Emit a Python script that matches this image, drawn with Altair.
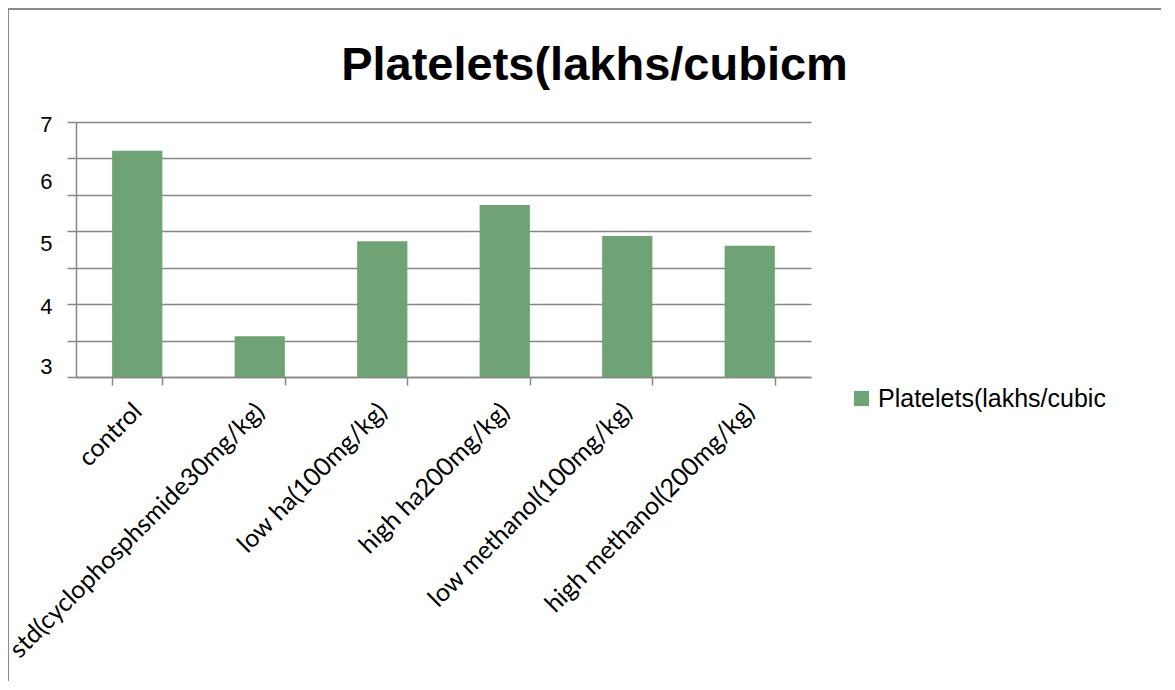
import altair as alt
import pandas as pd

categories = [
    "control",
    "std(cyclophosphsmide30mg/kg)",
    "low ha(100mg/kg)",
    "high ha200mg/kg)",
    "low methanol(100mg/kg)",
    "high methanol(200mg/kg)",
]
values = [6.55, 3.64, 5.13, 5.70, 5.21, 5.06]
series_name = "Platelets(lakhs/cubic"
title_text = "Platelets(lakhs/cubicm"
axis_floor = 3

# gridlines of the original axis (7 equal steps between 3 and 7)
grid_values = [3 + k * 4 / 7 for k in range(8)]
# where the tick labels 7,6,5,4,3 appear in the original
label_values = [6.96, 6.06, 5.10, 4.11, 3.16]

df = pd.DataFrame({"category": categories, "value": values, "series": series_name})

GRAY = "#868686"
GREEN = "#6FA275"

all_vals = grid_values + label_values
label_test = "indexof([" + ",".join(str(v) for v in label_values) + "], datum.value) >= 0"

y_axis = alt.Axis(
    values=all_vals,
    grid=True,
    gridColor=GRAY,
    gridWidth=1.5,
    gridOpacity={"condition": {"test": label_test, "value": 0}, "value": 1},
    tickOpacity={"condition": {"test": label_test, "value": 0}, "value": 1},
    labelOpacity={"condition": {"test": label_test, "value": 1}, "value": 0},
    tickColor=GRAY,
    tickSize=9,
    tickWidth=1.5,
    domainColor=GRAY,
    domainWidth=1.5,
    labelExpr="round(datum.value)",
    labelFont="Liberation Sans",
    labelFontSize=22,
    labelColor="#000000",
    labelPadding=15,
    labelOverlap=False,
    title=None,
)

x_axis = alt.Axis(
    labelAngle=-45,
    labelAlign="right",
    labelBaseline="middle",
    labelFont="Lato",
    labelFontSize=25,
    labelColor="#000000",
    labelPadding=22,
    labelLimit=0,
    tickBand="extent",
    tickColor=GRAY,
    tickSize=8,
    tickWidth=1.5,
    domainColor=GRAY,
    domainWidth=1.5,
    title=None,
)

bars = alt.Chart(df).mark_bar().encode(
    x=alt.X("category:N", sort=categories, axis=x_axis,
            scale=alt.Scale(paddingInner=0.59, paddingOuter=0.295)),
    y=alt.Y("value:Q", axis=y_axis, scale=alt.Scale(domain=[3, 7], nice=False, zero=False)),
    y2=alt.datum(axis_floor),
    color=alt.Color(
        "series:N",
        scale=alt.Scale(range=[GREEN]),
        legend=alt.Legend(
            title=None,
            orient="none",
            legendX=773,
            legendY=264,
            symbolType="square",
            symbolSize=230,
            symbolStrokeWidth=0,
            labelFont="Liberation Sans",
            labelFontSize=25,
            labelColor="#000000",
            labelLimit=0,
        ),
    ),
)

frame = alt.Chart(alt.Data(values=[{"a": 1}])).mark_rect(
    fillOpacity=0, stroke="#8a8a8a", strokeWidth=2
).encode(
    x=alt.value(-68), x2=alt.value(1200), y=alt.value(-113), y2=alt.value(700)
)

chart = alt.layer(frame, bars).properties(
    width=735,
    height=255,
    title=alt.TitleParams(
        title_text,
        font="Liberation Sans",
        fontSize=47,
        fontWeight="bold",
        color="#000000",
        anchor="middle",
        frame="group",
        dx=151,
        offset=-82,
    ),
    autosize=alt.AutoSizeParams(type="none"),
    padding={"left": 68, "top": 114, "right": 350, "bottom": 304},
).configure_view(stroke=None)

chart.save("out.html", embed_options={"renderer": "svg", "actions": False})
